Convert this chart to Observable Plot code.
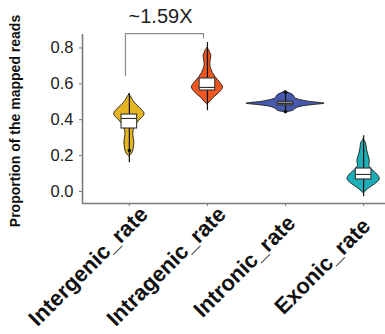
<!DOCTYPE html>
<html>
<head>
<meta charset="utf-8">
<script src="https://cdn.jsdelivr.net/npm/d3@7"></script>
<script src="https://cdn.jsdelivr.net/npm/@observablehq/plot@0.6"></script>
<style>
  body { margin: 0; background: #fff; }
  #chart svg { font-family: "Liberation Sans", Arial, Helvetica, sans-serif; }
</style>
</head>
<body>
<div id="chart"></div>
<script>
// Read-distribution categories
const categories = ["Intergenic_rate", "Intragenic_rate", "Intronic_rate", "Exonic_rate"];

// Violin outlines: proportion levels and the relative density at each level
const intergenicLevels = [0.54, 0.525, 0.505, 0.485, 0.465, 0.445, 0.43, 0.415, 0.40, 0.38, 0.36, 0.34, 0.32, 0.30, 0.28, 0.26, 0.24, 0.22, 0.205, 0.195];
const intergenicDensity = [0, 0.05, 0.10, 0.175, 0.275, 0.36, 0.39, 0.35, 0.275, 0.20, 0.15, 0.11, 0.10, 0.11, 0.125, 0.125, 0.11, 0.09, 0.05, 0];

const intragenicLevels = [0.80, 0.785, 0.77, 0.755, 0.74, 0.72, 0.70, 0.68, 0.66, 0.64, 0.62, 0.60, 0.58, 0.56, 0.54, 0.52, 0.50, 0.485];
const intragenicDensity = [0, 0.05, 0.075, 0.10, 0.09, 0.075, 0.075, 0.10, 0.14, 0.20, 0.275, 0.35, 0.40, 0.35, 0.26, 0.15, 0.075, 0];

const intronicLevels = [0.557, 0.55, 0.54, 0.53, 0.52, 0.51, 0.50, 0.493, 0.489, 0.485, 0.478, 0.47, 0.46, 0.45, 0.445, 0.44];
const intronicDensity = [0, 0.075, 0.175, 0.225, 0.25, 0.375, 0.60, 0.90, 1.0, 0.85, 0.55, 0.35, 0.25, 0.20, 0.10, 0];

const exonicLevels = [0.29, 0.27, 0.25, 0.23, 0.21, 0.19, 0.17, 0.155, 0.14, 0.12, 0.10, 0.08, 0.065, 0.05, 0.03, 0.015, 0.0, -0.01];
const exonicDensity = [0, 0.06, 0.075, 0.09, 0.11, 0.14, 0.16, 0.15, 0.15, 0.225, 0.325, 0.40, 0.41, 0.35, 0.225, 0.125, 0.05, 0];

// Box-plot summaries per category
const boxQ1 = [0.351, 0.563, 0.48, 0.067];
const boxMedian = [0.407, 0.58, 0.49, 0.095];
const boxQ3 = [0.429, 0.63, 0.50, 0.128];
const whiskerLow = [0.16, 0.45, 0.44, -0.03];
const whiskerHigh = [0.546, 0.83, 0.557, 0.31];
const outlierCategory = [0, 2, 2];
const outlierValue = [0.228, 0.553, 0.445];

// Axis ticks and annotation
const yTicks = [0, 0.2, 0.4, 0.6, 0.8];
const foldChangeLabel = "~1.59X";
const yLabel = "Proportion of the mapped reads";

// Styling
const violinFill = ["#E5B622", "#F0561F", "#4759AE", "#1DAFB7"];
const boxFill = ["#ffffff", "#ffffff", "#8a8a8a", "#ffffff"];
const violinScale = 0.5;   // x-units per unit of relative density
const boxHalf = 0.1;       // half width of the boxes in x-units
const axisGray = "#7a7a7a";

const violins = [
  [intergenicLevels, intergenicDensity],
  [intragenicLevels, intragenicDensity],
  [intronicLevels, intronicDensity],
  [exonicLevels, exonicDensity]
];

const idx = categories.map((_, i) => i);
const xDomain = [-0.6, 3.28];
const yDomain = [-0.067, 0.875];

// bracket between the first two categories
const bracketTop = Math.max(whiskerHigh[0], whiskerHigh[1]) + 0.05;
const bracket = [
  {x: 0 - 0.05, y: whiskerHigh[0] + 0.1},
  {x: 0 - 0.05, y: bracketTop},
  {x: 1 - 0.05, y: bracketTop},
  {x: 1 - 0.05, y: bracketTop - 0.025}
];

const violinMarks = violins.map(([levels, density], i) => {
  const rows = levels.map((v, k) => ({v, d: density[k]}));
  return Plot.areaX(rows, {
    y: "v",
    x1: r => i - r.d * violinScale,
    x2: r => i + r.d * violinScale,
    curve: "catmull-rom",
    fill: violinFill[i],
    stroke: "#1a1a1a",
    strokeWidth: 0.9
  });
});

const chart = Plot.plot({
  width: 385,
  height: 334,
  marginLeft: 82,
  marginRight: 0,
  marginTop: 34,
  marginBottom: 131,
  style: {background: "#fff", overflow: "visible"},
  color: {type: "identity"},
  x: {domain: xDomain, axis: null},
  y: {domain: yDomain, axis: null},
  marks: [
    ...violinMarks,
    Plot.ruleX(idx, {x: i => i, y1: i => whiskerLow[i], y2: i => whiskerHigh[i], stroke: "#111", strokeWidth: 1.2}),
    Plot.rect(idx, {
      x1: i => i - boxHalf, x2: i => i + boxHalf,
      y1: i => boxQ1[i], y2: i => boxQ3[i],
      fill: i => boxFill[i], stroke: "#333", strokeWidth: 1.1
    }),
    Plot.ruleY(idx, {y: i => boxMedian[i], x1: i => i - boxHalf, x2: i => i + boxHalf, stroke: "#333", strokeWidth: 1.1}),
    Plot.dot(outlierValue, {x: (d, k) => outlierCategory[k], y: d => d, r: 1.8, fill: "#111"}),
    // axis lines
    Plot.ruleX([xDomain[0]], {y1: yDomain[0], y2: yDomain[1], stroke: axisGray, strokeWidth: 1.6}),
    Plot.ruleY([yDomain[0]], {x1: xDomain[0], x2: xDomain[1], stroke: axisGray, strokeWidth: 1.6}),
    Plot.axisY({
      ticks: yTicks, tickFormat: d3.format(".1f"), tickSize: 3, tickPadding: 6,
      fontSize: 16.5, fill: "#222", stroke: axisGray, label: null
    }),
    Plot.axisX({ticks: idx, tickFormat: () => "", tickSize: 3, stroke: axisGray, label: null}),
    // category labels, centred and slanted below the axis
    Plot.text(idx, {
      x: i => i, text: i => categories[i], frameAnchor: "bottom",
      rotate: -45, textAnchor: "middle", lineAnchor: "middle",
      dx: -41, dy: 63, fontSize: 22, fontWeight: "bold", fill: "#111"
    }),
    Plot.text([yLabel], {
      frameAnchor: "left", rotate: -90, textAnchor: "middle", lineAnchor: "middle",
      dx: -67, dy: 2, fontSize: 14, fontWeight: "bold", fill: "#111"
    }),
    // fold-change bracket
    Plot.line(bracket, {x: "x", y: "y", stroke: "#8a8a8a", strokeWidth: 1.2}),
    Plot.text([foldChangeLabel], {
      x: (bracket[1].x + bracket[2].x) / 2, y: bracketTop, dy: -17, dx: -4,
      fontSize: 20, fill: "#222"
    })
  ]
});

document.getElementById("chart").appendChild(chart);
</script>
</body>
</html>
